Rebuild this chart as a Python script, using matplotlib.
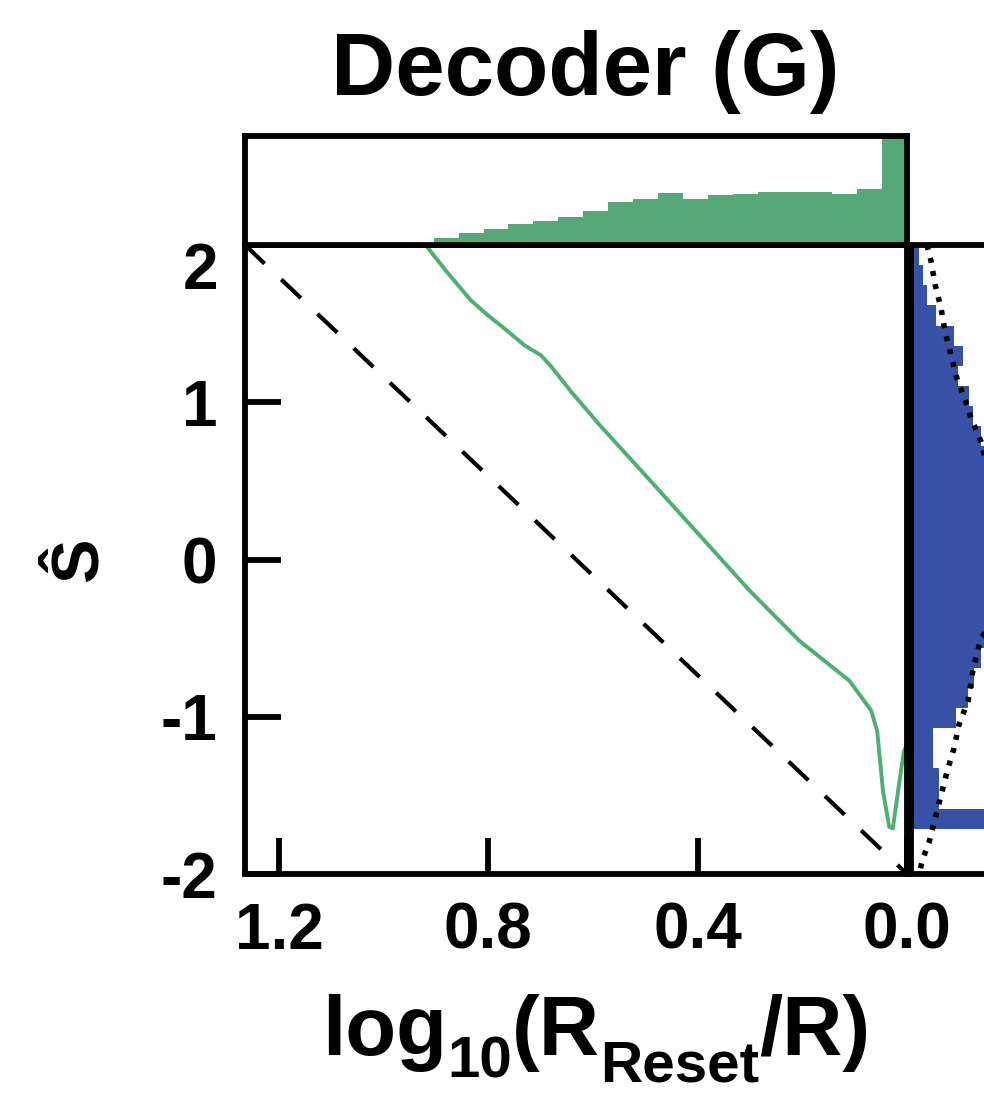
import numpy as np
import matplotlib
matplotlib.use("Agg")
import matplotlib.pyplot as plt

plt.rcParams['font.family'] = ['Liberation Sans', 'DejaVu Sans']
plt.rcParams['font.weight'] = 'bold'

# ---------------- data ----------------
X_MAX = 1.265          # left end of the (inverted) x range
S_MIN, S_MAX = -2.0, 2.0

# decoder curve: log10(R_reset/R) vs S-hat
curve_x = [1.265, 1.10, 0.92, 0.882, 0.834, 0.80, 0.777, 0.73, 0.70, 0.682, 0.64,
           0.587, 0.491, 0.396, 0.301, 0.206, 0.110, 0.0686, 0.057, 0.046,
           0.034, 0.027, 0.017, 0.006, 0.0]
curve_y = [2.0, 2.0, 2.0, 1.84, 1.65, 1.55, 1.49, 1.36, 1.30, 1.236, 1.06,
           0.854, 0.503, 0.153, -0.197, -0.516, -0.771, -0.96, -1.09, -1.47,
           -1.70, -1.71, -1.47, -1.22, -1.18]

# identity (dashed) reference line
ident_x = [X_MAX, 0.0]
ident_y = [2.0, -2.0]

# top histogram (bins of log10(R_reset/R), from 0 upward)
top_bin_width = 0.0476
top_counts = [1.00, 0.51, 0.465, 0.49, 0.485, 0.49, 0.47, 0.46, 0.42, 0.48,
              0.42, 0.39, 0.31, 0.26, 0.22, 0.19, 0.15, 0.11, 0.06, 0.02,
              0.005, 0.0, 0.0, 0.0, 0.0, 0.0, 0.0]

# right histogram (bins of S-hat between its min and max, from top downward)
S_DATA_MIN = -1.712
right_counts = [8, 12, 16, 25, 43, 52, 47, 58, 62, 70,
                85, 92, 98, 104, 108, 110, 108, 104, 98, 78,
                70, 63, 57, 45, 22, 22, 28, 28, 150]

# dotted reference density in the right panel
ref_x = [16, 20, 24, 30, 34, 40, 46, 55, 60, 70, 78, 90, 100, 95, 82,
         70, 62, 57, 48, 43, 36, 30, 24, 18, 12, 8]
ref_y = [2.0, 1.9, 1.75, 1.6, 1.45, 1.3, 1.15, 1.0, 0.9, 0.75, 0.55, 0.3, 0.05,
         -0.2, -0.4, -0.5, -0.7, -0.9, -1.05, -1.2, -1.35, -1.5, -1.65, -1.8,
         -1.9, -2.0]

xticks = [1.2, 0.8, 0.4, 0.0]
xtick_labels = ['1.2', '0.8', '0.4', '0.0']
yticks = [-2, -1, 0, 1, 2]
ytick_labels = ['-2', '-1', '0', '1', '']

GREEN = '#56a877'
GREEN_LINE = '#4daf70'
BLUE = '#3651a6'

# ---------------- layout ----------------
W, H = 984, 1096
fig = plt.figure(figsize=(W / 100, H / 100), dpi=100)


def rect(l, t, r, b):
    return [l / W, 1 - b / H, (r - l) / W, (b - t) / H]


ax = fig.add_axes(rect(245, 245, 907, 874))
axt = fig.add_axes(rect(245, 136, 907, 245))
axr = fig.add_axes(rect(911, 245, 1111, 874))

SPW = 4.2
for a in (ax, axt, axr):
    for sp in a.spines.values():
        sp.set_linewidth(SPW)
        sp.set_color('black')

# main panel
ax.plot(ident_x, ident_y, color='black', lw=3.0, ls=(0, (6.5, 5.5)))
ax.plot(curve_x, curve_y, color=GREEN_LINE, lw=2.8)
ax.set_xlim(X_MAX, 0.0)
ax.set_ylim(S_MIN, S_MAX)
ax.set_xticks(xticks)
ax.set_xticklabels(xtick_labels)
ax.set_yticks(yticks)
ax.set_yticklabels(ytick_labels)
ax.tick_params(direction='in', length=26, width=SPW, labelsize=46,
               top=False, right=False)
ax.tick_params(axis='x', pad=20)
ax.tick_params(axis='y', pad=20)
for lab in ax.get_xticklabels() + ax.get_yticklabels():
    lab.set_fontweight('bold')

# manual "2" label (sits a bit lower than its tick in the reference)
fig.text(218 / W, 1 - 272 / H, '2', ha='right', va='center',
         fontsize=46, fontweight='bold')

# top histogram
top_left = np.arange(len(top_counts)) * top_bin_width
axt.bar(top_left, top_counts, width=top_bin_width, align='edge',
        color=GREEN, linewidth=0)
axt.set_xlim(X_MAX, 0.0)
axt.set_ylim(0, 1.0)
axt.set_xticks([])
axt.set_yticks([])

# right histogram
edges = np.linspace(S_DATA_MIN, S_MAX, len(right_counts) + 1)[::-1]
axr.barh(edges[1:], right_counts, height=edges[0] - edges[1], align='edge',
         color=BLUE, linewidth=0)
axr.plot(ref_x, ref_y, color='black', lw=4.0, ls=(0, (0.9, 1.5)))
axr.set_xlim(0, 200)
axr.set_ylim(S_MIN, S_MAX)
axr.set_xticks([])
axr.set_yticks([])

# texts
fig.text(585 / W, 1 - 72 / H, 'Decoder (G)', ha='center', va='center',
         fontsize=64, fontweight='bold')

# x label built from runs of text (main text and lowered subscripts)
renderer = fig.canvas.get_renderer()
runs = [('log', 60, 0), ('10', 42, -22), ('(R', 60, 0), ('Reset', 42, -26),
        ('/R)', 60, 0)]
x_px = 322.0
base_px = 1055.0
for s, fs, dy in runs:
    t = fig.text(x_px / W, 1 - (base_px - dy) / H, s, ha='left', va='baseline',
                 fontsize=fs, fontweight='bold')
    bb = t.get_window_extent(renderer=renderer)
    x_px += bb.width

fig.text(80 / W, 1 - 560 / H, 'Ŝ', ha='center', va='center', rotation=90,
         fontsize=48, fontweight='bold')

fig.savefig('out.png', dpi=100)
